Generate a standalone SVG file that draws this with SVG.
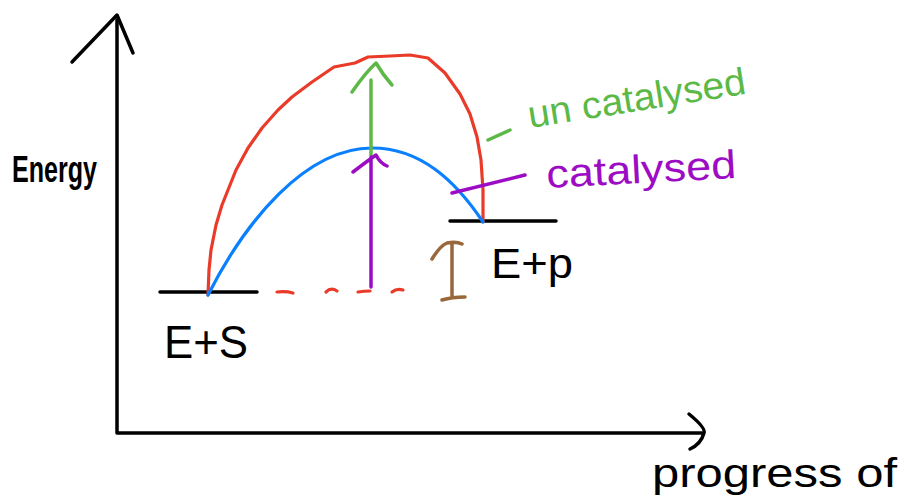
<svg xmlns="http://www.w3.org/2000/svg" width="904" height="501" viewBox="0 0 904 501">
<style>
.ln{fill:none;stroke-linecap:round;stroke-linejoin:round}
.k{stroke:#000;stroke-width:3.5}
.r{stroke:#ea3b2a;stroke-width:3.2}
.b{stroke:#0b80ff;stroke-width:3.2}
.g{stroke:#5cb947;stroke-width:3.5}
.p{stroke:#9c0cc4;stroke-width:3.5}
.br{stroke:#98673a;stroke-width:3.5}
text{font-family:"Liberation Sans",Arial,sans-serif}
</style>
<rect width="904" height="501" fill="#fff"/>
<g id="axes">
<path class="ln k" d="M117,20 V433 H702"/>
<path class="ln k" d="M72,62 L117,15 L133,53"/>
<path class="ln k" d="M689,414 Q706,428 704,433 Q701,444 690,449"/>
</g>
<g id="levels">
<path class="ln k" d="M160,292 H257"/>
<path class="ln k" d="M450,221 H556"/>
</g>
<g id="connectors">
<path id="uncatalysed-curve" class="ln r" d="M208,295 L209,270 L211,250 L216,225 L222,205 L230,185 L236,170 L248,148 L262,128 L278,110 L292,97 L312,82 L334,67 L355,63 L368,57 L390,56 L410,55 L428,58 L445,73 L460,94 L470,114 L477,137 L481,160 L483,190 L483,222"/>
<path id="catalysed-curve" class="ln b" d="M208,295 C245,222 305,148 372,148 C420,148 455,180 483,222"/>
<path class="ln r" d="M277,292 Q286,291 293,293 M326,292 Q331,287 337,291 M358,292 Q364,291 370,291 M392,292 Q397,288 403,290"/>
<path class="ln g" d="M371,155 V80 M352,92 Q366,72 376,63 Q383,75 392,85"/>
<path class="ln p" d="M371,287 V157 M353,172 Q366,162 376,155 Q380,163 387,166"/>
<path class="ln br" d="M432,259 Q440,246 447,243 Q456,241 462,244 M452,244 V297 M442,300 Q452,297 465,297"/>
<path class="ln g" d="M488,140 L510,130"/>
<path class="ln p" d="M452,193 L525,175"/>
</g>
<g id="labels">
<text x="12" y="182" font-size="36" font-weight="bold" textLength="85" lengthAdjust="spacingAndGlyphs">Energy</text>
<text x="164" y="358" font-size="46" textLength="84" lengthAdjust="spacingAndGlyphs">E+S</text>
<text x="491" y="278" font-size="42" textLength="82" lengthAdjust="spacingAndGlyphs">E+p</text>
<text x="652" y="487" font-size="40" textLength="245" lengthAdjust="spacingAndGlyphs">progress of</text>
<text x="530" y="128" font-size="38" fill="#5cb947" textLength="220" lengthAdjust="spacingAndGlyphs" transform="rotate(-9 530 128)">un catalysed</text>
<text x="547" y="188" font-size="40" fill="#9c0cc4" textLength="190" lengthAdjust="spacingAndGlyphs" transform="rotate(-3 547 188)">catalysed</text>
</g>
</svg>
